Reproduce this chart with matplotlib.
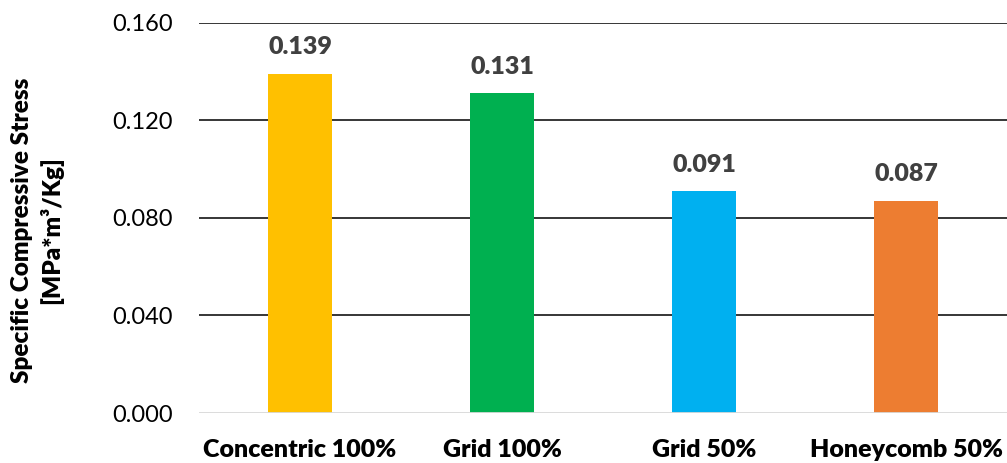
import matplotlib
matplotlib.use("Agg")
import matplotlib.pyplot as plt
from matplotlib.ticker import FixedLocator

categories = ["Concentric 100%", "Grid 100%", "Grid 50%", "Honeycomb 50%"]
values = [0.139, 0.131, 0.091, 0.087]
labels = ["0.139", "0.131", "0.091", "0.087"]
colors = ["#FFC000", "#00B050", "#00B0F0", "#ED7D31"]
yticks = [0.000, 0.040, 0.080, 0.120, 0.160]
ytick_labels = ["0.000", "0.040", "0.080", "0.120", "0.160"]

plt.rcParams['font.family'] = ['Lato', 'DejaVu Sans']

W, H = 1007, 463
fig = plt.figure(figsize=(W / 100, H / 100), dpi=100)
ax = fig.add_axes([199 / W, (H - 413) / H, (1007 - 199) / W, (413 - 22.5) / H])

x = list(range(len(categories)))
bars = ax.bar(x, values, width=0.32, color=colors, zorder=3)

ax.set_xlim(-0.5, len(categories) - 0.5)
ax.set_ylim(0, 0.160)
ax.yaxis.set_major_locator(FixedLocator(yticks))
ax.set_yticklabels(ytick_labels, fontsize=17, color="#000000")
ax.set_xticks(x)
ax.set_xticklabels(categories, fontsize=18, fontweight="heavy", color="#000000")

for s in ax.spines.values():
    s.set_visible(False)
ax.tick_params(axis="both", length=0)
ax.tick_params(axis="y", pad=19)
ax.tick_params(axis="x", pad=19)

for t in yticks[1:]:
    ax.axhline(t, color="#000000", lw=1.1, zorder=1)
ax.axhline(0, color="#D9D9D9", lw=1.3, zorder=4)

for b, lab in zip(bars, labels):
    ax.annotate(lab, (b.get_x() + b.get_width() / 2, b.get_height()),
                xytext=(0, 11), textcoords="offset points",
                ha="center", va="bottom", fontsize=18, fontweight="heavy",
                color="#404040")

fig.text(37 / W, (H - 230) / H, "Specific Compressive Stress\n[MPa*m³/Kg]",
         rotation=90, ha="center", va="center", fontsize=17.5,
         fontweight="heavy", linespacing=1.3)

fig.savefig("out.png", dpi=100)
